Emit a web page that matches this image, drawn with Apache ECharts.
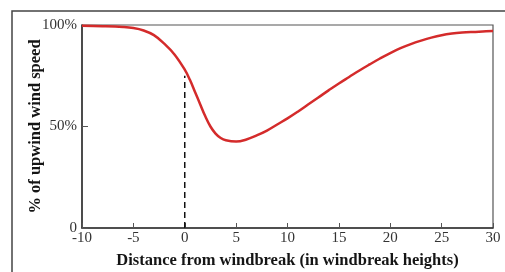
<!DOCTYPE html>
<html>
<head>
<meta charset="utf-8">
<script src="https://cdn.jsdelivr.net/npm/echarts@6/dist/echarts.min.js"></script>
<style>
  html, body { margin: 0; padding: 0; background: #fff; }
  #chart { width: 505px; height: 272px; }
</style>
</head>
<body>
<div id="chart"></div>
<script>
// distance behind the windbreak, in windbreak heights
var distances = [-10, -8, -6, -5, -4, -3, -2, -1, 0, 0.5, 1, 1.5, 2, 2.5, 3, 3.5, 4, 5, 6, 7, 8, 9, 10,
  11, 12, 13, 14, 15, 16, 17, 18, 19, 20, 21, 22, 23, 24, 25, 26, 27, 28, 29, 30]
// % of upwind wind speed
var windSpeed = [99.6, 99.4, 99, 98.5, 97.3, 95, 90.8, 85.5, 78, 73, 67, 61, 55, 50, 46.5, 44.3, 43.2, 42.6, 43.6, 45.6, 48, 51, 54,
  57.3, 60.8, 64.3, 67.8, 71.2, 74.4, 77.6, 80.6, 83.5, 86.2, 88.6, 90.6, 92.3, 93.8, 95, 95.8, 96.3, 96.6, 96.8, 97]
// dashed marker at the windbreak itself
var windbreakLine = [[0, 0], [0, 75]]

var serif = '"Liberation Serif", "DejaVu Serif", serif'

var chart = echarts.init(document.getElementById('chart'), null, { renderer: 'canvas' })

chart.setOption({
  animation: false,
  graphic: [{
    type: 'rect',
    shape: { x: 12, y: 11, width: 600, height: 400 },
    style: { fill: 'none', stroke: '#444', lineWidth: 1.5 },
    silent: true
  }],
  grid: {
    left: 82,
    right: 12,
    top: 25,
    bottom: 44,
    outerBoundsMode: 'none',
    containLabel: false,
    show: true,
    borderColor: '#555',
    borderWidth: 1.2
  },
  xAxis: {
    type: 'value',
    min: -10,
    max: 30,
    interval: 5,
    name: 'Distance from windbreak (in windbreak heights)',
    nameLocation: 'middle',
    nameGap: 24,
    nameMoveOverlap: false,
    nameTextStyle: { fontFamily: serif, fontWeight: 'bold', fontSize: 16.5, color: '#151515' },
    axisLine: { lineStyle: { color: '#333', width: 1.5 } },
    axisTick: { inside: true, length: 5, lineStyle: { color: '#555' } },
    axisLabel: { fontFamily: serif, fontSize: 15, color: '#333', margin: 3 },
    splitLine: { show: false }
  },
  yAxis: {
    type: 'value',
    min: 0,
    max: 100,
    interval: 50,
    name: '% of upwind wind speed',
    nameLocation: 'middle',
    nameGap: 38,
    nameMoveOverlap: false,
    nameTextStyle: { fontFamily: serif, fontWeight: 'bold', fontSize: 16.5, color: '#151515' },
    axisLine: { show: true, onZero: false, lineStyle: { color: '#333', width: 1.5 } },
    axisTick: { show: true, inside: true, length: 6, lineStyle: { color: '#555' } },
    axisLabel: {
      fontFamily: serif, fontSize: 15, color: '#333', margin: 5,
      formatter: function (v) { return v === 0 ? '0' : v + '%' }
    },
    splitLine: { show: false }
  },
  series: [{
    type: 'line',
    data: windbreakLine,
    symbol: 'none',
    lineStyle: { color: '#111', width: 1.5, type: [6, 4] },
    z: 1
  }, {
    type: 'line',
    data: distances.map(function (d, i) { return [d, windSpeed[i]] }),
    smooth: 0.4,
    symbol: 'none',
    lineStyle: { color: '#d42b2b', width: 2.5 },
    z: 2
  }]
})
</script>
</body>
</html>
